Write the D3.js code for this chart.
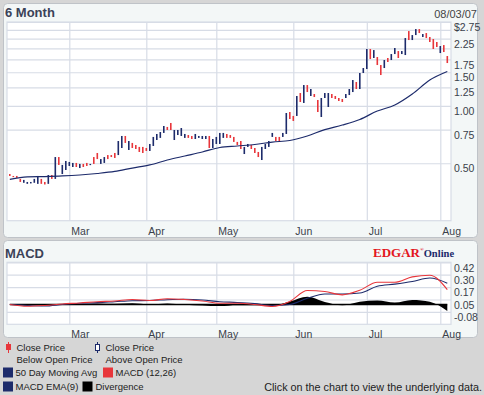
<!DOCTYPE html>
<html><head><meta charset="utf-8">
<script src="https://cdn.jsdelivr.net/npm/d3@7"></script>
<style>
body{margin:0;background:#d6d6d6;}
svg{display:block;font-family:"Liberation Sans",Arial,sans-serif;}
</style>
</head><body>
<svg id="c" width="484" height="395"></svg>
<script>
// ---------------- data ----------------
const startDate = "2007-02-05";
const endDate = "2007-08-03";
const holidays = ["2007-02-19", "2007-04-06", "2007-05-28", "2007-07-04"];

const openPrice = [
  .439,.429,.429,.414,.395,.390,.392,.395,.390,.414,
  .399,.390,.434,.414,.539,.439,.461,.484,.478,.502,
  .472,.496,.502,.490,.539,.566,.496,.502,.552,.552,
  .566,.552,.601,.695,.587,.639,.623,.609,.609,.601,
  .580,.616,.662,.679,.721,.775,.813,.662,.703,.695,
  .679,.703,.695,.670,.679,.670,.670,.695,.601,.631,
  .631,.679,.712,.703,.687,.647,.654,.559,.609,.623,
  .601,.573,.520,.594,.609,.687,.687,.687,.687,.712,
  .928,.885,.885,1.167,1.035,1.285,1.126,1.153,1.073,.874,
  1.099,.986,1.153,1.126,1.099,1.086,1.099,1.139,1.181,1.333,
  1.225,1.486,1.559,1.985,1.781,1.802,1.636,1.578,1.781,1.738,
  1.868,1.937,1.868,1.846,2.465,2.212,2.349,2.525,2.294,2.407,
  2.294,2.239,2.160,1.891,2.082,1.824
];
const closePrice = [
  .429,.424,.419,.399,.409,.399,.399,.414,.429,.390,
  .387,.434,.414,.539,.490,.490,.514,.508,.502,.478,
  .496,.478,.484,.496,.496,.526,.526,.539,.526,.539,
  .533,.654,.695,.639,.654,.601,.594,.573,.566,.580,
  .631,.687,.712,.729,.784,.747,.747,.747,.747,.765,
  .712,.679,.670,.712,.695,.695,.695,.601,.670,.687,
  .721,.721,.679,.679,.647,.623,.594,.609,.631,.594,
  .566,.539,.609,.631,.654,.721,.654,.647,.721,.917,
  .853,.833,1.126,1.047,1.285,1.181,1.225,1.112,.928,1.099,
  1.167,1.167,1.099,1.086,1.060,1.047,1.153,1.225,1.365,1.225,
  1.486,1.578,1.985,1.759,1.960,1.636,1.450,1.738,1.697,1.868,
  2.009,1.781,1.937,2.266,2.212,2.349,2.525,2.407,2.378,2.266,
  2.160,1.985,2.033,2.058,1.914,1.676
];

// read every 5th trading day
const sampleStep = 5;
const movingAvg50 = [.412,.424,.426,.429,.434,.442,.453,.472,.490,.520,.546,.573,.605,
                     .616,.627,.646,.658,.695,.751,.793,.848,.939,1.010,1.153,1.365,1.513];
const macdValues = [0.0,-0.018,-0.01,0.005,0.015,0.028,0.035,0.05,0.04,0.058,0.05,0.035,0.012,
                    0.012,0.0,-0.02,0.03,0.14,0.13,0.097,0.143,0.224,0.224,0.278,0.294,0.15];
const signalValues = [0.0,-0.01,-0.015,0.0,0.012,0.018,0.028,0.038,0.04,0.048,0.052,0.045,0.028,
                      0.02,0.008,-0.01,0.0,0.062,0.105,0.105,0.115,0.183,0.205,0.232,0.267,0.215];

const priceTicks = [2.75, 2.5, 2.25, 2, 1.75, 1.5, 1.25, 1, 0.75, 0.5];
const priceTickLabels = ["$2.75", "", "2.25", "", "1.75", "1.50", "1.25", "1.00", "0.75", "0.50"];
const macdTicks = [0.425, 0.3, 0.175, 0.05, -0.075];
const macdTickLabels = ["0.42", "0.30", "0.17", "0.05", "-0.08"];

const titleText = "6 Month";
const dateText = "08/03/07";

// ---------------- setup ----------------
const RED = "#e8363b", NAVY = "#1d2b6b", GRID = "#d7dce6", TXT = "#3a3f4a";
const svg = d3.select("#c");
const parse = d3.utcParse("%Y-%m-%d"), fmt = d3.utcFormat("%Y-%m-%d");
const dates = d3.utcDays(parse(startDate), d3.utcDay.offset(parse(endDate), 1))
  .filter(d => d.getUTCDay() % 6 !== 0 && !holidays.includes(fmt(d)));
const idx = d3.range(dates.length);
const monthStarts = idx.filter(i => i > 0 && dates[i].getUTCMonth() !== dates[i - 1].getUTCMonth());

const P = {l: 7, r: 451, t: 22, b: 220.7};
const M = {t: 262.3, b: 324.3};

const x = d3.scalePoint().domain(idx).range([9.8, 447.3]);
const y = d3.scaleLog().domain([0.25, 2.75]).range([P.b, P.t]);
const ym = d3.scaleLinear().domain([-0.2, 0.425]).range([M.b, M.t]);

// panels
svg.append("rect").attr("x", 3.5).attr("y", 3.5).attr("width", 474).attr("height", 234)
  .attr("rx", 4).attr("fill", "#f3f7f7").attr("stroke", "#bfc3c8");
svg.append("rect").attr("x", 3.5).attr("y", 240.5).attr("width", 474).attr("height", 97)
  .attr("rx", 4).attr("fill", "#f3f7f7").attr("stroke", "#bfc3c8");

// plot areas
svg.append("rect").attr("x", P.l).attr("y", P.t).attr("width", P.r - P.l).attr("height", P.b - P.t)
  .attr("fill", "#fff").attr("stroke", GRID).attr("stroke-width", 1.2);
svg.append("rect").attr("x", P.l).attr("y", M.t).attr("width", P.r - P.l).attr("height", M.b - M.t)
  .attr("fill", "#fff").attr("stroke", GRID).attr("stroke-width", 1.2);

// titles
svg.append("text").attr("x", 5).attr("y", 17).attr("font-size", 13).attr("font-weight", "bold")
  .attr("fill", "#3b4257").text(titleText);
svg.append("text").attr("x", 477).attr("y", 18).attr("font-size", 11).attr("text-anchor", "end")
  .attr("fill", "#444").text(dateText);
svg.append("text").attr("x", 5).attr("y", 257.5).attr("font-size", 13).attr("font-weight", "bold")
  .attr("fill", "#3b4257").text("MACD");

// EDGAR Online logo
const logo = svg.append("text").attr("x", 373).attr("y", 256.5).attr("font-family", "'Liberation Serif','Times New Roman',serif")
  .attr("font-weight", "bold");
logo.append("tspan").attr("font-size", 13).attr("fill", "#e3161d").text("EDGAR");
logo.append("tspan").attr("font-size", 5).attr("fill", "#e3161d").attr("dy", -6).text("®");
logo.append("tspan").attr("font-size", 10.5).attr("fill", "#1d2b6b").attr("dy", 6).text("Online");

// ---------- main chart grid + axes ----------
function styleGrid(g) {
  g.select(".domain").remove();
  g.selectAll(".tick line").attr("stroke", GRID).attr("stroke-width", 1.2);
}
svg.append("g").attr("transform", `translate(0,${P.b})`)
  .call(d3.axisBottom(x).tickValues(monthStarts).tickSize(-(P.b - P.t)).tickPadding(0)
    .tickFormat(i => d3.utcFormat("%b")(dates[i])))
  .call(styleGrid)
  .call(g => g.selectAll(".tick text").attr("text-anchor", "start").attr("x", 1.5).attr("y", 14)
    .attr("dy", 0).attr("font-size", 10.5).attr("fill", TXT).attr("font-family", "'Liberation Sans',Arial,sans-serif"));
svg.append("g").attr("transform", `translate(${P.r},0)`)
  .call(d3.axisRight(y).tickValues(priceTicks).tickSize(-(P.r - P.l)).tickPadding(3)
    .tickFormat((d, i) => priceTickLabels[i]))
  .call(styleGrid)
  .call(g => g.selectAll(".tick text").attr("dy", 8.6).attr("font-size", 10.5).attr("fill", TXT)
    .attr("font-family", "'Liberation Sans',Arial,sans-serif"));

// price bars
svg.append("g").selectAll("rect").data(idx).join("rect")
  .attr("x", i => x(i) - 0.8).attr("width", 1.6)
  .attr("y", i => y(Math.max(openPrice[i], closePrice[i])))
  .attr("height", i => Math.max(1.2, y(Math.min(openPrice[i], closePrice[i])) - y(Math.max(openPrice[i], closePrice[i]))))
  .attr("fill", i => closePrice[i] < openPrice[i] ? RED : NAVY);

// moving average
svg.append("path").datum(movingAvg50)
  .attr("fill", "none").attr("stroke", NAVY).attr("stroke-width", 1.2)
  .attr("d", d3.line().x((d, k) => x(k * sampleStep)).y(d => y(d)).curve(d3.curveMonotoneX));

// ---------- MACD panel ----------
svg.append("g").attr("transform", `translate(0,${M.b})`)
  .call(d3.axisBottom(x).tickValues(monthStarts).tickSize(-(M.b - M.t)).tickPadding(0)
    .tickFormat(i => d3.utcFormat("%b")(dates[i])))
  .call(styleGrid)
  .call(g => g.selectAll(".tick text").attr("text-anchor", "start").attr("x", 1.5).attr("y", 13.5)
    .attr("dy", 0).attr("font-size", 10.5).attr("fill", TXT).attr("font-family", "'Liberation Sans',Arial,sans-serif"));
svg.append("g").attr("transform", `translate(${P.r},0)`)
  .call(d3.axisRight(ym).tickValues(macdTicks).tickSize(-(P.r - P.l)).tickPadding(3)
    .tickFormat((d, i) => macdTickLabels[i]))
  .call(styleGrid)
  .call(g => g.selectAll(".tick text").attr("dy", 8.8).attr("font-size", 10.5).attr("fill", TXT)
    .attr("font-family", "'Liberation Sans',Arial,sans-serif"));

const sx = (d, k) => x(k * sampleStep);
svg.append("path").datum(macdValues)
  .attr("fill", "#000")
  .attr("d", d3.area().x(sx).y0(ym(0)).y1((d, k) => ym(d - signalValues[k])).curve(d3.curveMonotoneX));
svg.append("line").attr("x1", x(0)).attr("x2", x(idx.length - 1))
  .attr("y1", ym(0)).attr("y2", ym(0)).attr("stroke", "#000").attr("stroke-width", 1.6);
svg.append("path").datum(signalValues).attr("fill", "none").attr("stroke", NAVY).attr("stroke-width", 1.1)
  .attr("d", d3.line().x(sx).y(d => ym(d)).curve(d3.curveMonotoneX));
svg.append("path").datum(macdValues).attr("fill", "none").attr("stroke", RED).attr("stroke-width", 1.1)
  .attr("d", d3.line().x(sx).y(d => ym(d)).curve(d3.curveMonotoneX));

// ---------- legend ----------
const lg = svg.append("g").attr("font-size", 9.5).attr("fill", "#222");
lg.append("line").attr("x1", 8.5).attr("x2", 8.5).attr("y1", 342).attr("y2", 353).attr("stroke", RED);
lg.append("rect").attr("x", 6).attr("y", 344).attr("width", 5).attr("height", 6).attr("fill", RED);
lg.append("text").attr("x", 16.5).attr("y", 351).text("Close Price");
lg.append("text").attr("x", 16.5).attr("y", 363).text("Below Open Price");
lg.append("line").attr("x1", 97.5).attr("x2", 97.5).attr("y1", 342).attr("y2", 353).attr("stroke", NAVY);
lg.append("rect").attr("x", 95.5).attr("y", 344.5).attr("width", 4).attr("height", 6).attr("fill", "#fff").attr("stroke", NAVY);
lg.append("text").attr("x", 105.5).attr("y", 351).text("Close Price");
lg.append("text").attr("x", 105.5).attr("y", 363).text("Above Open Price");
const sq = [[3, 367.5, NAVY, 15.5, "50 Day Moving Avg"], [103, 367.5, RED, 115.5, "MACD (12,26)"],
            [3, 381.5, NAVY, 15.5, "MACD EMA(9)"], [82.5, 381.5, "#000", 95.5, "Divergence"]];
sq.forEach(([sx0, sy0, col, tx, label]) => {
  lg.append("rect").attr("x", sx0).attr("y", sy0).attr("width", 10).attr("height", 10).attr("fill", col);
  lg.append("text").attr("x", tx).attr("y", sy0 + 8.8).text(label);
});
lg.append("text").attr("x", 482).attr("y", 391).attr("text-anchor", "end").attr("font-size", 10.8)
  .text("Click on the chart to view the underlying data.");
</script>
</body></html>
